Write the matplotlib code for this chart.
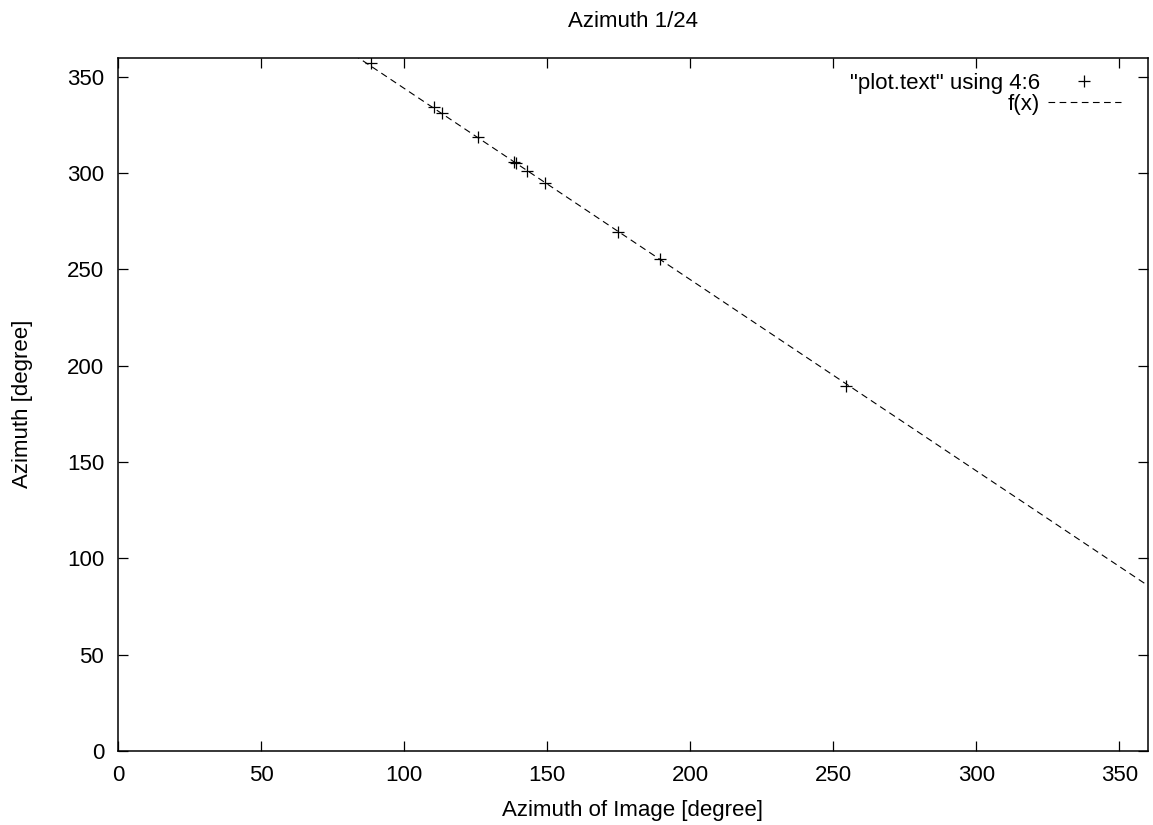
import numpy as np
import matplotlib
matplotlib.use("Agg")
import matplotlib.pyplot as plt

# data
img_az = [88.5, 110.3, 113.3, 125.9, 138.5, 139.1, 142.9, 149.2, 174.7, 189.6, 254.4]
az = [357.2, 334.5, 331.3, 318.6, 305.9, 305.2, 300.9, 294.8, 269.5, 255.3, 189.3]
fit_a = -0.993
fit_b = 443.3
ticks = [0, 50, 100, 150, 200, 250, 300, 350]

plt.rcParams['font.family'] = ['Liberation Sans', 'DejaVu Sans']
plt.rcParams['font.size'] = 16

fig = plt.figure(figsize=(11.53, 8.25), dpi=100)
ax = fig.add_axes([0.1023, 0.0897, 0.8934, 0.8406])

ax.plot(img_az, az, linestyle='none', marker='+', markersize=8, mew=0.9,
        color='black', label='"plot.text" using 4:6')
xs = np.linspace(0, 360, 200)
ax.plot(xs, fit_a * xs + fit_b, color='black', lw=0.8,
        linestyle=(0, (6, 4)), label='f(x)')

ax.set_xlim(0, 360)
ax.set_ylim(0, 360)
ax.set_xticks(ticks)
ax.set_yticks(ticks)
ax.tick_params(direction='in', length=7, width=0.9, top=True, right=True, pad=10)
for s in ax.spines.values():
    s.set_linewidth(1.1)

ax.set_title('Azimuth 1/24', pad=22, fontsize=16)
ax.set_xlabel('Azimuth of Image [degree]', labelpad=10)
ax.set_ylabel('Azimuth [degree]', labelpad=24)

ax.legend(loc='upper right', bbox_to_anchor=(0.989, 1.0), frameon=False,
          markerfirst=False, handlelength=3.3, labelspacing=0.0,
          borderaxespad=0.3, handletextpad=0.35, fontsize=16)

fig.savefig('out.png', dpi=100)
